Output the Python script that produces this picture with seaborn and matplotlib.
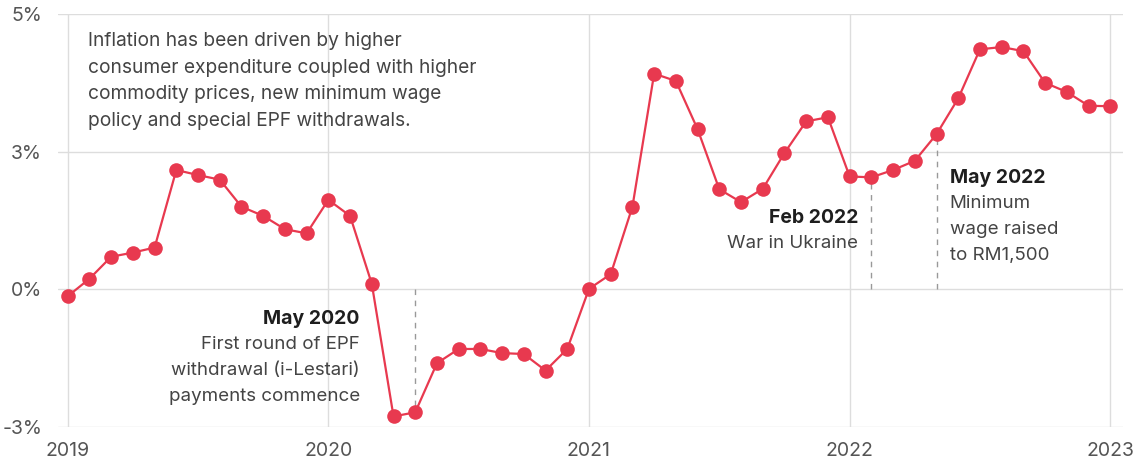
import numpy as np
import pandas as pd
import matplotlib
matplotlib.use("Agg")
import matplotlib.pyplot as plt
import seaborn as sns

# Monthly headline inflation, Jan 2019 - Jan 2023 (% year on year)
months = pd.date_range("2019-01-01", "2023-01-01", freq="MS")
inflation = [
    -0.15, 0.23, 0.71, 0.80, 0.91, 2.60, 2.49, 2.39, 1.80, 1.60, 1.31, 1.22,
    1.95, 1.60, 0.12, -2.77, -2.68, -1.61, -1.30, -1.30, -1.39, -1.41, -1.77, -1.30,
    0.01, 0.33, 1.80, 4.70, 4.54, 3.49, 2.18, 1.90, 2.19, 2.97, 3.66, 3.75,
    2.46, 2.44, 2.60, 2.80, 3.38, 4.16, 5.23, 5.28, 5.19, 4.50, 4.30, 4.00,
    3.99,
]
year_labels = ["2019", "2020", "2021", "2022", "2023"]
y_ticks = [-3, 0, 3, 6]
y_tick_labels = ["-3%", "0%", "3%", "5%"]

events = [
    # (month, bold heading, description lines, text side)
    ("2020-05", "May 2020", ["First round of EPF", "withdrawal (i-Lestari)", "payments commence"], "left"),
    ("2022-02", "Feb 2022", ["War in Ukraine"], "left"),
    ("2022-05", "May 2022", ["Minimum", "wage raised", "to RM1,500"], "right"),
]
note = ("Inflation has been driven by higher\n"
        "consumer expenditure coupled with higher\n"
        "commodity prices, new minimum wage\n"
        "policy and special EPF withdrawals.")

df = pd.DataFrame({"month": np.arange(len(months)), "inflation": inflation})
month_index = {d.strftime("%Y-%m"): i for i, d in enumerate(months)}

sns.set_theme(style="white")
plt.rcParams["font.family"] = ["Inter", "DejaVu Sans"]

RED = "#E8394F"
GRID = "#DDDDDD"
TEXT = "#444444"
HEAD = "#1E1E1E"

fig = plt.figure(figsize=(11.41, 4.62), dpi=100)
ax = fig.add_axes([0.0506, 0.0758, 0.9335, 0.8939])

sns.lineplot(data=df, x="month", y="inflation", ax=ax, color=RED,
             linewidth=1.6, marker="o", markersize=10.5,
             markeredgewidth=0, markerfacecolor=RED, zorder=3)

ax.set_xlim(-0.46, 48.58)
ax.set_ylim(-3, 6)
ax.set_xticks([0, 12, 24, 36, 48])
ax.set_xticklabels(year_labels)
ax.set_yticks(y_ticks)
ax.set_yticklabels(y_tick_labels)
ax.set_xlabel("")
ax.set_ylabel("")
ax.grid(True, color=GRID, linewidth=1.0)
ax.set_axisbelow(True)
for s in ax.spines.values():
    s.set_visible(False)
ax.tick_params(axis="both", length=0, labelsize=14, colors="#555555")
ax.tick_params(axis="y", pad=11.3)
ax.tick_params(axis="x", pad=11)

ax.text(0.93, 4.54, note, fontsize=13.8, color=TEXT,
        va="center", ha="left", linespacing=1.62)

line_step = 0.56
for key, head, lines, side in events:
    xi = month_index[key]
    yv = inflation[xi]
    ax.plot([xi, xi], [0, yv], color="#999999", linewidth=1, linestyle=(0, (4, 4)), zorder=2)
    if side == "left":
        tx = xi - 2.55 if key == "2020-05" else xi - 0.6
        ha = "right"
    else:
        tx = xi + 0.6
        ha = "left"
    if key == "2020-05":
        y0 = -0.65
    elif key == "2022-02":
        y0 = 1.55
    else:
        y0 = 2.42
    ax.text(tx, y0, head, fontsize=14, color=HEAD, fontweight="bold", ha=ha, va="center")
    for k, line in enumerate(lines):
        ax.text(tx, y0 - line_step * (k + 1), line, fontsize=13.5, color=TEXT,
                ha=ha, va="center")

fig.savefig("out.png", dpi=100)
